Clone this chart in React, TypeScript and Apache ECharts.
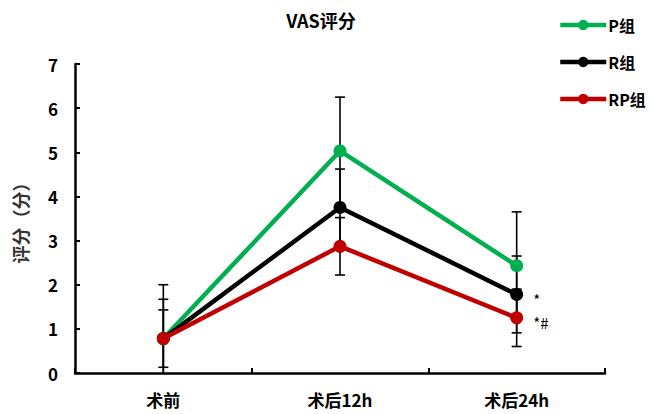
import React, { useEffect, useRef } from "react";
import * as echarts from "echarts";

const categories = ["术前", "术后12h", "术后24h"];
const seriesNames = ["P组", "R组", "RP组"];
const pValues = [0.78, 5.03, 2.43];
const rValues = [0.78, 3.75, 1.78];
const rpValues = [0.78, 2.87, 1.25];
const pErrors = [1.22, 1.22, 1.22];
const rErrors = [0.89, 0.87, 0.87];
const rpErrors = [0.65, 0.65, 0.65];
const colors = ["#00B050", "#000000", "#C00000"];
const yTicks = [0, 1, 2, 3, 4, 5, 6, 7];
const notes = ["", "*", "*#"];

const FONT = "'Noto Sans CJK SC', 'Noto Sans', sans-serif";

export default function App() {
  const ref = useRef<HTMLDivElement>(null);
  useEffect(() => {
    if (!ref.current) return;
    const chart = echarts.init(ref.current, undefined, { renderer: "svg" });
    const values = [pValues, rValues, rpValues];
    const errors = [pErrors, rErrors, rpErrors];

    const errData: number[][] = [];
    values.forEach((vals, s) => {
      vals.forEach((v, i) => {
        errData.push([i, v, errors[s][i]]);
      });
    });

    const lineSeries = values.map((vals, s) => ({
      type: "line",
      name: seriesNames[s],
      z: 3 + s,
      data: vals.map((v, i) => {
        if (i === 2 && notes[s]) {
          return {
            value: v,
            label: {
              show: true,
              formatter: notes[s],
              position: "right",
              offset: [5, 5],
              color: "#000",
              fontSize: 15,
              fontFamily: FONT,
            },
          };
        }
        return v;
      }),
      symbol: "circle",
      symbolSize: 13,
      color: colors[s],
      itemStyle: { color: colors[s] },
      lineStyle: { color: colors[s], width: 4.5 },
    }));

    chart.setOption({
      animation: false,
      textStyle: { fontFamily: FONT },
      title: {
        text: "VAS评分",
        left: 316,
        top: 6,
        textAlign: "center",
        textStyle: { fontSize: 18, fontWeight: "bold", color: "#000", fontFamily: FONT },
      },
      legend: {
        orient: "vertical",
        left: 558,
        top: 17,
        padding: 0,
        itemWidth: 46,
        itemHeight: 13,
        itemGap: 21,
        data: seriesNames,
        lineStyle: { width: 4.5 },
        textStyle: { fontSize: 16, fontWeight: "bold", color: "#000", fontFamily: FONT, padding: [0, 0, 0, -3] },
      },
      grid: { left: 75, right: 49, top: 64, bottom: 41, containLabel: false },
      xAxis: {
        type: "category",
        data: categories,
        boundaryGap: true,
        axisLine: { lineStyle: { color: "#000", width: 2.5 } },
        axisTick: { show: true, inside: true, length: 5, lineStyle: { color: "#000", width: 2 } },
        axisLabel: { fontSize: 17, fontWeight: "bold", color: "#000", margin: 18, fontFamily: FONT },
      },
      yAxis: {
        type: "value",
        min: yTicks[0],
        max: yTicks[yTicks.length - 1],
        interval: 1,
        name: "评分（分）",
        nameLocation: "middle",
        nameGap: 46,
        nameTextStyle: { fontSize: 18, fontWeight: "bold", color: "#333", fontFamily: FONT },
        axisLine: { show: true, lineStyle: { color: "#000", width: 2.5 } },
        axisTick: { show: true, inside: true, length: 5, lineStyle: { color: "#000", width: 2 } },
        splitLine: { show: false },
        axisLabel: { fontSize: 17, fontWeight: "bold", color: "#000", margin: 17, fontFamily: FONT },
      },
      series: [
        {
          type: "custom",
          name: "err",
          z: 1,
          clip: true,
          data: errData,
          renderItem: (params: any, api: any) => {
            const x = api.value(0);
            const m = api.value(1);
            const e = api.value(2);
            const hi = m + e;
            const lo = Math.max(0, m - e);
            const pHi = api.coord([x, hi]);
            const pLo = api.coord([x, lo]);
            const half = 5;
            const style = { stroke: "#000", lineWidth: 1.6 };
            const children: any[] = [
              { type: "line", shape: { x1: pHi[0], y1: pHi[1], x2: pLo[0], y2: pLo[1] }, style },
              { type: "line", shape: { x1: pHi[0] - half, y1: pHi[1], x2: pHi[0] + half, y2: pHi[1] }, style },
            ];
            if (m - e >= 0) {
              children.push({ type: "line", shape: { x1: pLo[0] - half, y1: pLo[1], x2: pLo[0] + half, y2: pLo[1] }, style });
            }
            return { type: "group", children };
          },
        },
        ...lineSeries,
      ],
    });
    return () => chart.dispose();
  }, []);
  return <div ref={ref} style={{ width: 654, height: 414, marginLeft: -8, marginTop: -8 }} />;
}
